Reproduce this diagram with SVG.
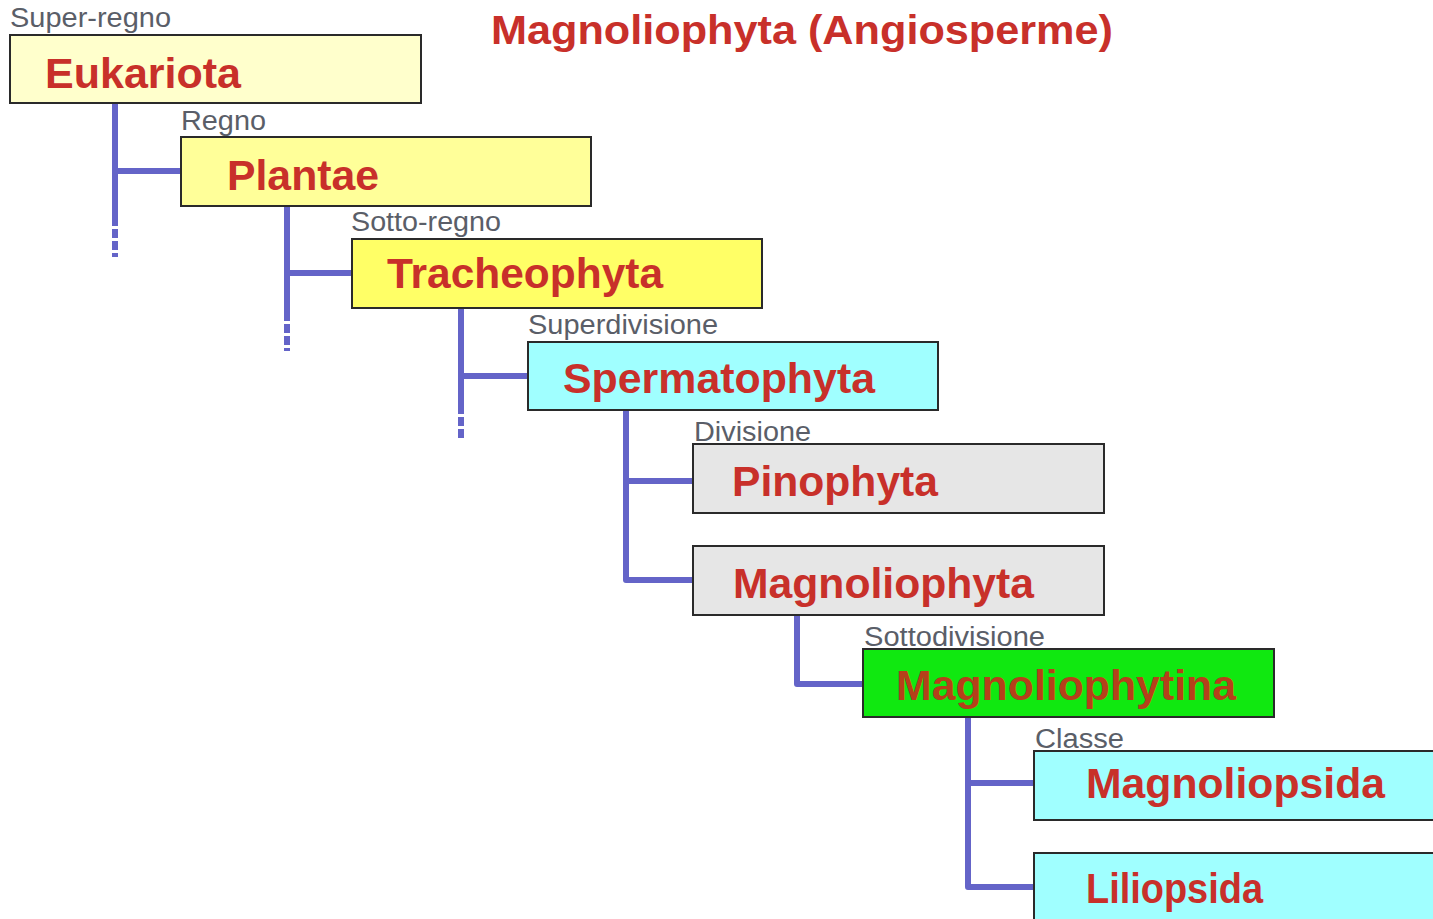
<svg xmlns="http://www.w3.org/2000/svg" width="1433" height="919" viewBox="0 0 1433 919">
<style>
.box{stroke:#2a2a2a;stroke-width:2}
.name{font-family:"Liberation Sans",Arial,sans-serif;font-weight:bold;font-size:42px;fill:#c8302a}
.rank{font-family:"Liberation Sans",Arial,sans-serif;font-size:27px;fill:#5a5e68}
.title{font-family:"Liberation Sans",Arial,sans-serif;font-weight:bold;font-size:40px;fill:#c8302a}
.ln{stroke:#6464c8;stroke-width:6;fill:none;stroke-linejoin:round}
.dash{stroke:#6464c8;stroke-width:6;fill:none;stroke-dasharray:9 3}
</style>
<rect width="1433" height="919" fill="#ffffff"/>
<text class="title" x="491" y="44" textLength="622" lengthAdjust="spacingAndGlyphs">Magnoliophyta (Angiosperme)</text>
<g id="connectors">
<path class="ln" d="M115 103 V217 M115 171 H181"/>
<path class="dash" d="M115 217 V257"/>
<path class="ln" d="M287 206 V312 M287 273 H352"/>
<path class="dash" d="M287 312 V351"/>
<path class="ln" d="M461 308 V405 M461 376 H528"/>
<path class="dash" d="M461 405 V438"/>
<path class="ln" d="M626 410 V580 H693 M626 481 H693"/>
<path class="ln" d="M797 615 V684 H863"/>
<path class="ln" d="M968 717 V887 H1034 M968 783 H1034"/>
</g>
<g id="eukariota">
<text class="rank" x="10" y="27" textLength="161" lengthAdjust="spacingAndGlyphs">Super-regno</text>
<rect class="box" x="10" y="35" width="411" height="68" fill="#ffffcc"/>
<text class="name" x="45" y="88" textLength="196" lengthAdjust="spacingAndGlyphs">Eukariota</text>
</g>
<g id="plantae">
<text class="rank" x="181" y="130" textLength="85" lengthAdjust="spacingAndGlyphs">Regno</text>
<rect class="box" x="181" y="137" width="410" height="69" fill="#ffff99"/>
<text class="name" x="227" y="190" textLength="152" lengthAdjust="spacingAndGlyphs">Plantae</text>
</g>
<g id="tracheophyta">
<text class="rank" x="351" y="231" textLength="150" lengthAdjust="spacingAndGlyphs">Sotto-regno</text>
<rect class="box" x="352" y="239" width="410" height="69" fill="#ffff66"/>
<text class="name" x="387" y="288" textLength="276" lengthAdjust="spacingAndGlyphs">Tracheophyta</text>
</g>
<g id="spermatophyta">
<text class="rank" x="528" y="334" textLength="190" lengthAdjust="spacingAndGlyphs">Superdivisione</text>
<rect class="box" x="528" y="342" width="410" height="68" fill="#a0ffff"/>
<text class="name" x="563" y="393" textLength="312" lengthAdjust="spacingAndGlyphs">Spermatophyta</text>
</g>
<g id="pinophyta">
<text class="rank" x="694" y="441" textLength="117" lengthAdjust="spacingAndGlyphs">Divisione</text>
<rect class="box" x="693" y="444" width="411" height="69" fill="#e6e6e6"/>
<text class="name" x="732" y="496" textLength="206" lengthAdjust="spacingAndGlyphs">Pinophyta</text>
</g>
<g id="magnoliophyta">
<rect class="box" x="693" y="546" width="411" height="69" fill="#e6e6e6"/>
<text class="name" x="733" y="598" textLength="301" lengthAdjust="spacingAndGlyphs">Magnoliophyta</text>
</g>
<g id="magnoliophytina">
<text class="rank" x="864" y="646" textLength="181" lengthAdjust="spacingAndGlyphs">Sottodivisione</text>
<rect class="box" x="863" y="649" width="411" height="68" fill="#10e810"/>
<text class="name" x="896" y="700" textLength="340" lengthAdjust="spacingAndGlyphs" style="fill:#b5401a">Magnoliophytina</text>
</g>
<g id="magnoliopsida">
<text class="rank" x="1035" y="748" textLength="89" lengthAdjust="spacingAndGlyphs">Classe</text>
<rect class="box" x="1034" y="751" width="410" height="69" fill="#a0ffff"/>
<text class="name" x="1086" y="798" textLength="299" lengthAdjust="spacingAndGlyphs">Magnoliopsida</text>
</g>
<g id="liliopsida">
<rect class="box" x="1034" y="853" width="410" height="80" fill="#a0ffff"/>
<text class="name" x="1086" y="903" textLength="177" lengthAdjust="spacingAndGlyphs">Liliopsida</text>
</g>
</svg>
